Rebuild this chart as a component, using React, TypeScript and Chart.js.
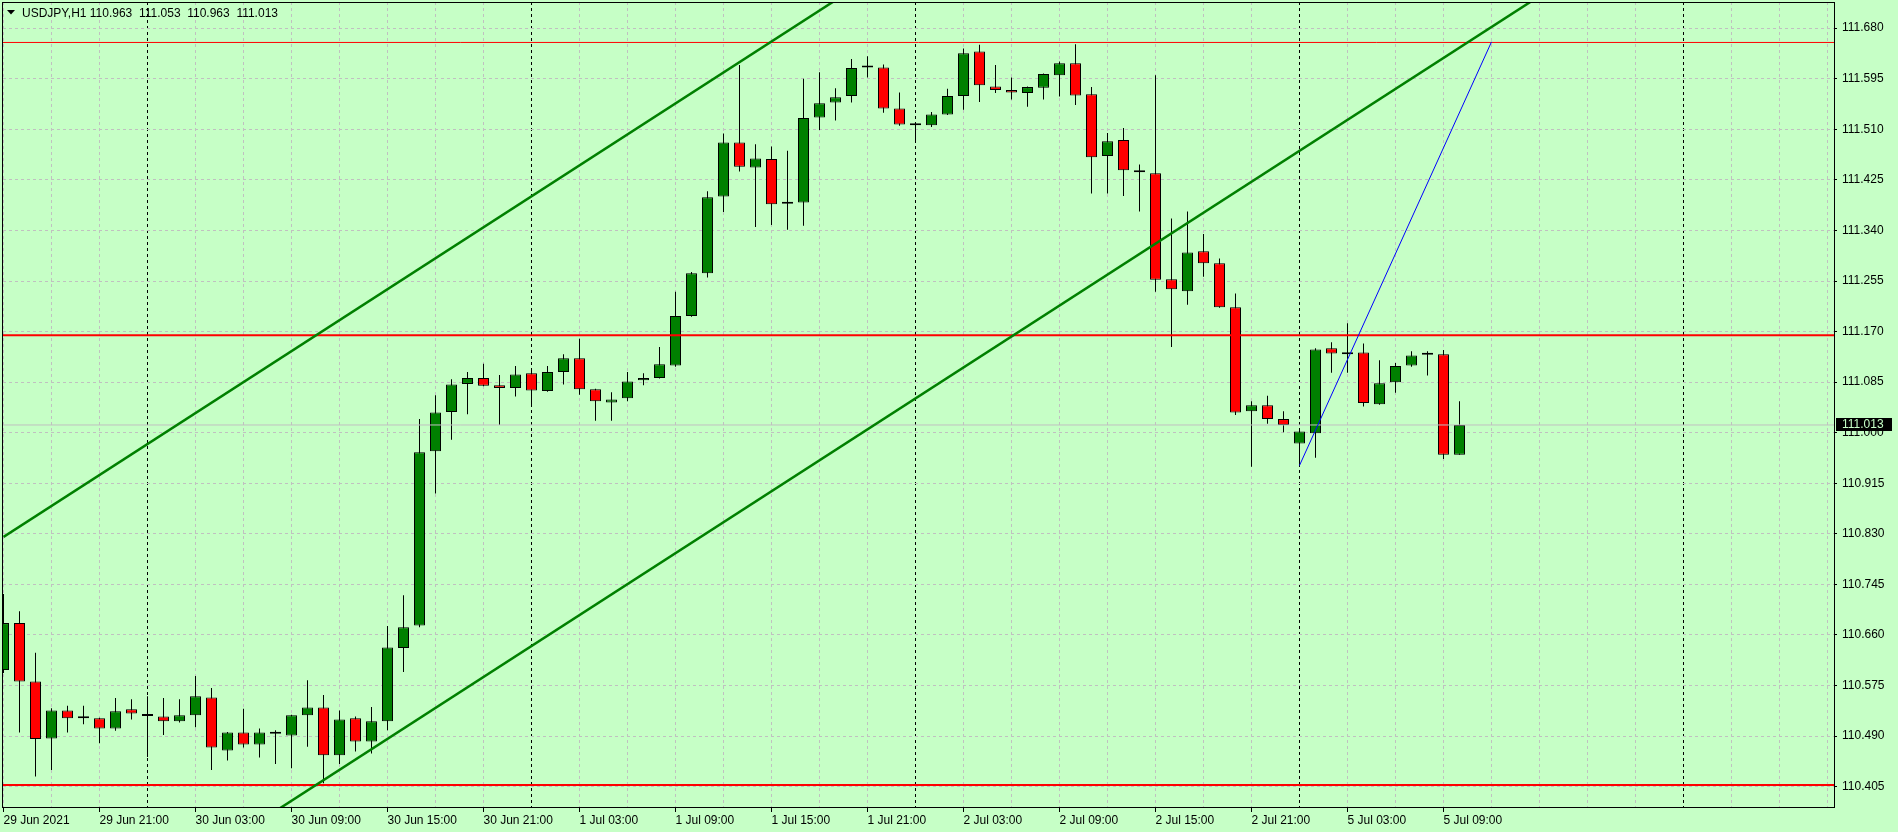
import React, { useEffect, useRef } from 'react';
import { Chart, registerables } from 'chart.js';

Chart.register(...registerables);

// ---- Data (USDJPY H1, bar index 0 = 29 Jun 15:00) ----
const opens = [
  110.601, 110.680, 110.582, 110.486, 110.533, 110.520, 110.520, 110.503, 110.535, 110.524,
  110.523, 110.515, 110.525, 110.555, 110.466, 110.496, 110.476, 110.494, 110.491, 110.525,
  110.538, 110.458, 110.520, 110.481, 110.515, 110.638, 110.676, 110.969, 111.035, 111.082,
  111.092, 111.080, 111.075, 111.100, 111.070, 111.102, 111.125, 111.073, 111.051, 111.058,
  111.088, 111.092, 111.113, 111.196, 111.268, 111.397, 111.488, 111.446, 111.460, 111.385,
  111.387, 111.530, 111.555, 111.566, 111.614, 111.614, 111.545, 111.517, 111.517, 111.535,
  111.566, 111.641, 111.582, 111.576, 111.571, 111.580, 111.601, 111.621, 111.569, 111.465,
  111.492, 111.441, 111.436, 111.258, 111.238, 111.305, 111.285, 111.211, 111.036, 111.046,
  111.023, 110.982, 110.999, 111.142, 111.132, 111.135, 111.048, 111.085, 111.113, 111.131,
  111.132, 110.963,
];
const highs = [
  110.729, 110.700, 110.630, 110.537, 110.541, 110.541, 110.521, 110.554, 110.552, 110.557,
  110.554, 110.552, 110.591, 110.571, 110.497, 110.536, 110.503, 110.500, 110.526, 110.584,
  110.559, 110.533, 110.523, 110.539, 110.675, 110.727, 111.023, 111.063, 111.090, 111.102,
  111.116, 111.097, 111.112, 111.107, 111.112, 111.132, 111.158, 111.074, 111.068, 111.102,
  111.100, 111.144, 111.237, 111.270, 111.406, 111.503, 111.618, 111.485, 111.481, 111.474,
  111.595, 111.606, 111.579, 111.628, 111.633, 111.619, 111.572, 111.520, 111.539, 111.578,
  111.646, 111.652, 111.618, 111.597, 111.582, 111.604, 111.624, 111.653, 111.581, 111.504,
  111.512, 111.451, 111.601, 111.360, 111.372, 111.334, 111.293, 111.234, 111.053, 111.062,
  111.036, 111.007, 111.142, 111.152, 111.184, 111.150, 111.122, 111.117, 111.137, 111.137,
  111.139, 111.053,
];
const lows = [
  110.596, 110.496, 110.422, 110.433, 110.496, 110.510, 110.478, 110.499, 110.518, 110.455,
  110.492, 110.513, 110.505, 110.433, 110.449, 110.471, 110.454, 110.443, 110.436, 110.472,
  110.411, 110.443, 110.464, 110.461, 110.500, 110.598, 110.673, 110.898, 110.988, 111.031,
  111.078, 111.013, 111.061, 111.044, 111.069, 111.081, 111.064, 111.020, 111.020, 111.053,
  111.080, 111.091, 111.111, 111.195, 111.261, 111.371, 111.439, 111.346, 111.349, 111.341,
  111.348, 111.509, 111.525, 111.555, 111.597, 111.538, 111.516, 111.488, 111.514, 111.534,
  111.543, 111.556, 111.571, 111.560, 111.548, 111.560, 111.565, 111.551, 111.402, 111.402,
  111.398, 111.372, 111.237, 111.144, 111.215, 111.262, 111.210, 111.030, 110.943, 111.015,
  111.001, 110.945, 110.958, 111.101, 111.101, 111.044, 111.047, 111.067, 111.111, 111.096,
  110.956, 110.963,
];
const closes = [
  110.680, 110.582, 110.485, 110.533, 110.520, 110.520, 110.503, 110.532, 110.528, 110.524,
  110.515, 110.525, 110.557, 110.471, 110.496, 110.476, 110.496, 110.494, 110.525, 110.538,
  110.458, 110.518, 110.481, 110.515, 110.639, 110.673, 110.967, 111.034, 111.081, 111.092,
  111.079, 111.075, 111.098, 111.071, 111.102, 111.125, 111.073, 111.053, 111.056, 111.086,
  111.092, 111.115, 111.196, 111.268, 111.396, 111.488, 111.447, 111.461, 111.384, 111.385,
  111.529, 111.554, 111.564, 111.613, 111.614, 111.545, 111.518, 111.517, 111.535, 111.566,
  111.638, 111.584, 111.576, 111.572, 111.581, 111.603, 111.621, 111.567, 111.463, 111.490,
  111.441, 111.438, 111.257, 111.241, 111.303, 111.285, 111.211, 111.034, 111.046, 111.023,
  111.013, 111.002, 111.140, 111.133, 111.135, 111.050, 111.083, 111.112, 111.130, 111.131,
  110.963, 111.013,
];

const symbolTitle = 'USDJPY,H1';
const yTicks = [
  111.680, 111.595, 111.510, 111.425, 111.340, 111.255, 111.170, 111.085,
  111.000, 110.915, 110.830, 110.745, 110.660, 110.575, 110.490, 110.405,
];
const xLabelBars = [0, 6, 12, 18, 24, 30, 36, 42, 48, 54, 60, 66, 72, 78, 84, 90];
const xLabels = [
  '29 Jun 2021', '29 Jun 21:00', '30 Jun 03:00', '30 Jun 09:00', '30 Jun 15:00', '30 Jun 21:00',
  '1 Jul 03:00', '1 Jul 09:00', '1 Jul 15:00', '1 Jul 21:00', '2 Jul 03:00', '2 Jul 09:00',
  '2 Jul 15:00', '2 Jul 21:00', '5 Jul 03:00', '5 Jul 09:00',
];
const daySeparatorBars = [9, 33, 57, 81, 105];
const gridEveryBars = 3;
const lastGridBar = 114;

const levelsThin = [111.656];
const levelsThick = [111.164, 110.408];
const channelUpper: [number, number][] = [[0, 110.825], [52, 111.727]];
const channelLower: [number, number][] = [[17, 110.364], [96, 111.734]];
const blueLine: [number, number][] = [[81, 110.945], [93, 111.657]];

// ---- View range ----
const X_MIN = -0.03125;
const X_MAX = 114.40625;
const Y_MIN = 110.3692;
const Y_MAX = 111.724;

const BG = 'rgb(198,255,198)';
const GRID = '#C0C0C0';
const GREEN = '#008000';
const RED = '#FF0000';
const FONT = 'Liberation Sans, Arial, sans-serif';

export default function App() {
  const ref = useRef<HTMLCanvasElement>(null);

  useEffect(() => {
    document.body.style.margin = '0';
    document.body.style.overflow = 'hidden';
    const canvas = ref.current;
    if (!canvas) return;
    const n = closes.length;
    const idx = closes.map((_, i) => i);
    const bodyData = idx.map((i) => ({ x: i, y: [Math.min(opens[i], closes[i]), Math.max(opens[i], closes[i])] }));
    const bodyColors = idx.map((i) => (closes[i] > opens[i] ? GREEN : closes[i] < opens[i] ? RED : '#000000'));
    const wickData = idx.map((i) => ({ x: i, y: [lows[i], highs[i]] }));
    const seg = (pts: [number, number][]) => pts.map(([x, y]) => ({ x, y }));
    const hline = (v: number) => [{ x: X_MIN, y: v }, { x: X_MAX, y: v }];
    const gridBars: number[] = [];
    for (let b = 0; b <= lastGridBar; b += gridEveryBars) gridBars.push(b);

    const lineBase = { type: 'line' as const, pointRadius: 0, fill: false, tension: 0, clip: 0 };

    const bgPlugin = {
      id: 'bg',
      beforeDraw(chart: any) {
        const c = chart.ctx;
        c.save();
        c.fillStyle = BG;
        c.fillRect(0, 0, chart.width, chart.height);
        c.restore();
      },
    };

    const overlayPlugin = {
      id: 'overlay',
      afterDraw(chart: any) {
        const c = chart.ctx;
        const { left, top, right, bottom } = chart.chartArea;
        c.save();
        // frame
        c.strokeStyle = '#000';
        c.lineWidth = 1;
        c.setLineDash([]);
        c.strokeRect(left - 0.5, top + 0.5, right - left + 1, bottom - top - 1);
        // bid label
        const last = closes[n - 1];
        const yc = chart.scales.y.getPixelForValue(last);
        c.fillStyle = '#000';
        c.fillRect(right + 2, Math.round(yc) - 7, 56, 13);
        c.fillStyle = BG;
        c.font = `12px ${FONT}`;
        c.textBaseline = 'middle';
        c.textAlign = 'left';
        c.fillText(last.toFixed(3), right + 8, yc);
        // title
        c.fillStyle = '#000';
        c.beginPath();
        c.moveTo(7, 10);
        c.lineTo(15, 10);
        c.lineTo(11, 14.5);
        c.closePath();
        c.fill();
        c.textBaseline = 'alphabetic';
        const t = `${symbolTitle} ${opens[n - 1].toFixed(3)}  ${highs[n - 1].toFixed(3)}  ${lows[n - 1].toFixed(3)}  ${closes[n - 1].toFixed(3)}`;
        c.fillText(t, 22, 17);
        c.restore();
      },
    };

    const chart = new Chart(canvas, {
      type: 'bar',
      data: {
        datasets: [
          { ...lineBase, data: seg(blueLine), borderColor: '#0000FF', borderWidth: 1, order: 0 },
          { ...lineBase, data: seg(channelUpper), borderColor: GREEN, borderWidth: 2.5, order: 1 },
          { ...lineBase, data: seg(channelLower), borderColor: GREEN, borderWidth: 2.5, order: 1 },
          ...levelsThin.map((v) => ({ ...lineBase, data: hline(v), borderColor: RED, borderWidth: 1, order: 2 })),
          ...levelsThick.map((v) => ({ ...lineBase, data: hline(v), borderColor: RED, borderWidth: 2, order: 2 })),
          { ...lineBase, data: hline(closes[n - 1]), borderColor: GRID, borderWidth: 1, order: 3 },
          {
            type: 'bar',
            data: bodyData,
            backgroundColor: bodyColors,
            borderColor: '#000',
            borderWidth: 1,
            borderSkipped: false,
            barThickness: 11,
            grouped: false,
            minBarLength: 2,
            inflateAmount: 0,
            clip: 0,
            order: 4,
          },
          {
            type: 'bar',
            data: wickData,
            backgroundColor: '#000',
            borderWidth: 0,
            barThickness: 1,
            grouped: false,
            inflateAmount: 0,
            clip: 0,
            order: 5,
          },
        ] as any,
      },
      options: {
        responsive: false,
        maintainAspectRatio: false,
        animation: false,
        devicePixelRatio: 1,
        layout: { padding: { left: 3, top: 2, right: 0, bottom: 0 } },
        plugins: { legend: { display: false }, tooltip: { enabled: false }, title: { display: false } },
        events: [],
        scales: {
          x: {
            type: 'linear',
            min: X_MIN,
            max: X_MAX,
            offset: false,
            bounds: 'data',
            afterBuildTicks: (s: any) => {
              s.ticks = gridBars.map((v) => ({ value: v }));
            },
            afterFit: (s: any) => {
              s.height = 24;
              s.paddingLeft = 0;
              s.paddingRight = 0;
            },
            ticks: {
              autoSkip: false,
              maxRotation: 0,
              minRotation: 0,
              align: 'start',
              padding: 1,
              color: '#000',
              font: { family: FONT, size: 12 },
              callback: (v: any) => {
                const i = xLabelBars.indexOf(Number(v));
                return i >= 0 ? xLabels[i] : '';
              },
            },
            grid: {
              offset: false,
              lineWidth: 1,
              color: (ctx: any) => (daySeparatorBars.includes(ctx.tick?.value) ? '#000' : GRID),
              drawTicks: true,
              tickLength: 4,
              tickWidth: 1,
              tickColor: (ctx: any) => (xLabelBars.includes(ctx.tick?.value) ? '#000' : 'rgba(0,0,0,0)'),
            },
            border: { display: false, dash: [3, 3] },
          },
          y: {
            type: 'linear',
            position: 'right',
            min: Y_MIN,
            max: Y_MAX,
            bounds: 'data',
            beginAtZero: false,
            afterBuildTicks: (s: any) => {
              s.ticks = yTicks.map((v) => ({ value: v }));
            },
            afterFit: (s: any) => {
              s.width = 64;
              s.paddingTop = 0;
              s.paddingBottom = 0;
            },
            ticks: {
              autoSkip: false,
              padding: 5,
              color: '#000',
              font: { family: FONT, size: 12 },
              callback: (v: any) => Number(v).toFixed(3),
            },
            grid: { color: GRID, lineWidth: 1, tickLength: 3, tickColor: '#000', tickWidth: 1 },
            border: { display: false, dash: [3, 3] },
          },
        },
      } as any,
      plugins: [bgPlugin, overlayPlugin],
    });

    return () => chart.destroy();
  }, []);

  return <canvas ref={ref} width={1898} height={832} style={{ display: 'block' }} />;
}
